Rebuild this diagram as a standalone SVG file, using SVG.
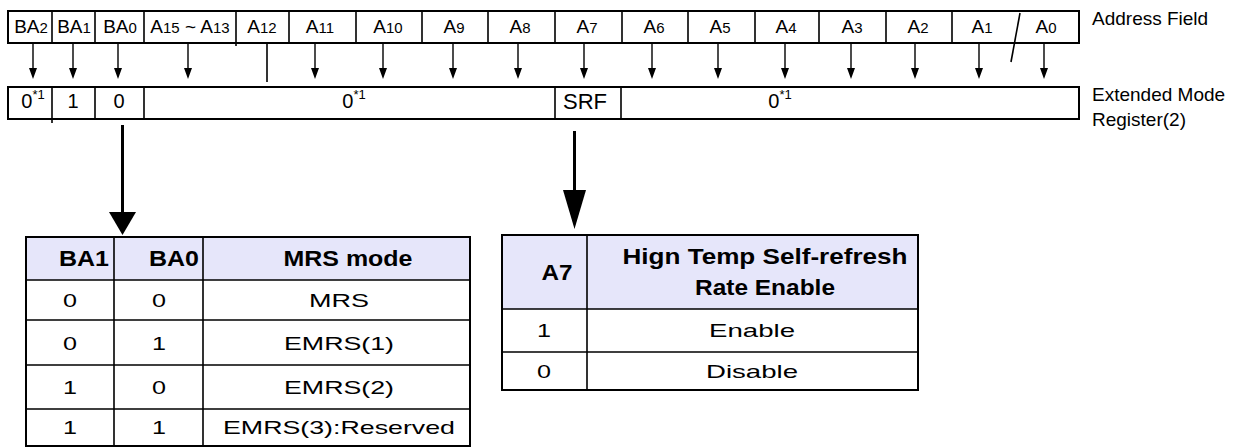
<svg xmlns="http://www.w3.org/2000/svg" width="1242" height="448" viewBox="0 0 1242 448">
<style>
text{font-family:"Liberation Sans",Arial,sans-serif;fill:#000}
.c{font-size:19px;text-anchor:middle}
.s{font-size:15px}
.r{font-size:20px;text-anchor:middle}
.sup{font-size:13px}
.lbl{font-size:19px}
.b{fill:none;stroke:#000;stroke-width:2}
.d{stroke:#000;stroke-width:1.6}
.big{stroke:#000;stroke-width:3}
.hd{fill:#E6E6FA}
.th{font-size:22px;font-weight:bold;text-anchor:middle}
.td{font-size:19px;text-anchor:middle}
</style>
<g id="address-field">
<rect class="b" x="8" y="11" width="1071" height="32"/>
<path class="d" d="M52,11V43M95,11V43M144,11V43M236,11V46M289,11V43M356,11V43M422,11V43M488,11V43M555,11V43M622,11V43M688,11V43M755,11V43M819,11V43M886,11V43M952,11V43"/>
<path class="d" d="M1020,13L1011,62"/>
<text class="c" x="31" y="33">BA<tspan class="s">2</tspan></text>
<text class="c" x="74" y="33">BA<tspan class="s">1</tspan></text>
<text class="c" x="120" y="33">BA<tspan class="s">0</tspan></text>
<text class="c" x="190" y="33">A<tspan class="s">15</tspan> ~ A<tspan class="s">13</tspan></text>
<text class="c" x="262" y="33">A<tspan class="s">12</tspan></text>
<text class="c" x="320" y="33">A<tspan class="s">11</tspan></text>
<text class="c" x="388" y="33">A<tspan class="s">10</tspan></text>
<text class="c" x="454" y="33">A<tspan class="s">9</tspan></text>
<text class="c" x="520" y="33">A<tspan class="s">8</tspan></text>
<text class="c" x="587" y="33">A<tspan class="s">7</tspan></text>
<text class="c" x="654" y="33">A<tspan class="s">6</tspan></text>
<text class="c" x="720" y="33">A<tspan class="s">5</tspan></text>
<text class="c" x="786" y="33">A<tspan class="s">4</tspan></text>
<text class="c" x="852" y="33">A<tspan class="s">3</tspan></text>
<text class="c" x="918" y="33">A<tspan class="s">2</tspan></text>
<text class="c" x="982" y="33">A<tspan class="s">1</tspan></text>
<text class="c" x="1046" y="33">A<tspan class="s">0</tspan></text>
<text class="lbl" x="1092" y="25">Address Field</text>
</g>
<g id="emr2-register">
<rect class="b" x="8" y="87" width="1071" height="32"/>
<path class="d" d="M52,87V123M95,87V119M144,87V119M555,87V119M621,87V119"/>
<text class="r" x="33" y="108">0<tspan class="sup" dy="-9">*1</tspan></text>
<text class="r" x="73" y="108">1</text>
<text class="r" x="119" y="108">0</text>
<text class="r" x="354" y="108">0<tspan class="sup" dy="-9">*1</tspan></text>
<text class="r" x="585" y="109" style="font-size:22px">SRF</text>
<text class="r" x="780" y="108">0<tspan class="sup" dy="-9">*1</tspan></text>
<text class="lbl" x="1092" y="101">Extended Mode</text>
<text class="lbl" x="1092" y="126">Register(2)</text>
</g>
<g id="connectors">
<path d="M33,43V70M73,43V70M118,43V70M188,43V70M315,43V70M383,43V70M453,43V70M518,43V70M584,43V70M652,43V70M718,43V70M785,43V70M851,43V70M915,43V70M979,43V70M1044,43V70" stroke="#000" stroke-width="1.4" fill="none"/>
<path fill="#000" d="M29,68h8l-4,11z M69,68h8l-4,11z M114,68h8l-4,11z M184,68h8l-4,11z M311,68h8l-4,11z M379,68h8l-4,11z M449,68h8l-4,11z M514,68h8l-4,11z M580,68h8l-4,11z M648,68h8l-4,11z M714,68h8l-4,11z M781,68h8l-4,11z M847,68h8l-4,11z M911,68h8l-4,11z M975,68h8l-4,11z M1040,68h8l-4,11z"/>
<path d="M267,43V82" stroke="#000" stroke-width="1.6"/>
<path class="big" d="M122.5,125V214"/>
<path d="M109,212H136L122.5,235Z" fill="#000"/>
<path class="big" d="M574.5,131V192"/>
<path d="M563,190H586L574.5,229Z" fill="#000"/>
</g>
<g id="mrs-table">
<rect class="hd" x="26" y="237" width="444" height="43"/>
<rect class="b" x="26" y="237" width="444" height="209"/>
<path class="d" d="M114,237V446M203,237V446M26,280H470M26,320H470M26,365H470M26,409H470"/>
<text class="th" x="84" y="266" textLength="50" lengthAdjust="spacingAndGlyphs">BA1</text>
<text class="th" x="174" y="266" textLength="50" lengthAdjust="spacingAndGlyphs">BA0</text>
<text class="th" x="348" y="266" textLength="129" lengthAdjust="spacingAndGlyphs">MRS mode</text>
<text class="td" x="70" y="307" textLength="14" lengthAdjust="spacingAndGlyphs">0</text>
<text class="td" x="159" y="307" textLength="14" lengthAdjust="spacingAndGlyphs">0</text>
<text class="td" x="339" y="307" textLength="60" lengthAdjust="spacingAndGlyphs">MRS</text>
<text class="td" x="70" y="350" textLength="14" lengthAdjust="spacingAndGlyphs">0</text>
<text class="td" x="159" y="350" textLength="14" lengthAdjust="spacingAndGlyphs">1</text>
<text class="td" x="339" y="350" textLength="110" lengthAdjust="spacingAndGlyphs">EMRS(1)</text>
<text class="td" x="70" y="394" textLength="14" lengthAdjust="spacingAndGlyphs">1</text>
<text class="td" x="159" y="394" textLength="14" lengthAdjust="spacingAndGlyphs">0</text>
<text class="td" x="339" y="394" textLength="110" lengthAdjust="spacingAndGlyphs">EMRS(2)</text>
<text class="td" x="70" y="434" textLength="14" lengthAdjust="spacingAndGlyphs">1</text>
<text class="td" x="159" y="434" textLength="14" lengthAdjust="spacingAndGlyphs">1</text>
<text class="td" x="339" y="434" textLength="232" lengthAdjust="spacingAndGlyphs">EMRS(3):Reserved</text>
</g>
<g id="srf-table">
<rect class="hd" x="502" y="235" width="416" height="74"/>
<rect class="b" x="502" y="235" width="416" height="155"/>
<path class="d" d="M587,235V390M502,309H918M502,352H918"/>
<text class="th" x="557" y="280" textLength="31" lengthAdjust="spacingAndGlyphs">A7</text>
<text class="th" x="765" y="264" textLength="285" lengthAdjust="spacingAndGlyphs">Hign Temp Self-refresh</text>
<text class="th" x="765" y="295" textLength="140" lengthAdjust="spacingAndGlyphs">Rate Enable</text>
<text class="td" x="544" y="337" textLength="14" lengthAdjust="spacingAndGlyphs">1</text>
<text class="td" x="752" y="337" textLength="86" lengthAdjust="spacingAndGlyphs">Enable</text>
<text class="td" x="544" y="378" textLength="14" lengthAdjust="spacingAndGlyphs">0</text>
<text class="td" x="752" y="378" textLength="92" lengthAdjust="spacingAndGlyphs">Disable</text>
</g>
</svg>
